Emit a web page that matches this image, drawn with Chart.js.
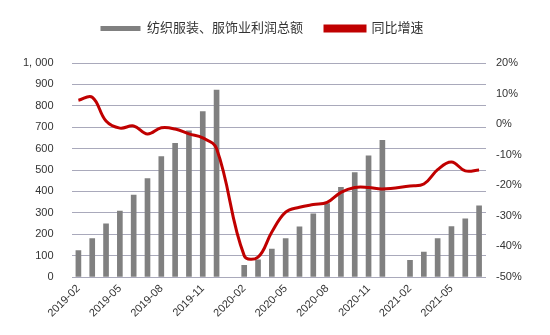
<!DOCTYPE html>
<html><head><meta charset="utf-8">
<script src="https://cdn.jsdelivr.net/npm/chart.js@4/dist/chart.umd.min.js"></script>
<style>html,body{margin:0;padding:0;background:#fff}#wrap{width:550px;height:335px}</style>
</head><body><div id="wrap"><canvas id="c" width="550" height="335"></canvas></div>
<script>
const categories = ["2019-02","2019-03","2019-04","2019-05","2019-06","2019-07","2019-08","2019-09","2019-10","2019-11","2019-12",
"2020-01","2020-02","2020-03","2020-04","2020-05","2020-06","2020-07","2020-08","2020-09","2020-10","2020-11","2020-12",
"2021-01","2021-02","2021-03","2021-04","2021-05","2021-06","2021-07"];
const profitTotal = [123,180,248,308,383,460,563,625,683,773,873,
null,55,80,130,180,235,295,343,419,488,566,639,
null,78,116,179,236,272,333];
const yoyGrowth = [7.8,8.8,1.0,-1.3,-0.6,-3.2,-1.2,-1.6,-3.2,-4.5,-8.0,
null,-43.0,-43.5,-35.3,-28.8,-27.2,-26.3,-25.6,-22.3,-20.7,-20.7,-21.2,
null,-20.2,-19.6,-14.9,-12.4,-15.3,-15.0];
const seriesNames = ["纺织服装、服饰业利润总额","同比增速"];

const FONT = "'Liberation Sans','Noto Sans CJK SC',sans-serif";
const GRID = '#A9A9BB';
const legendSpace = {
  id:'legendSpace',
  beforeInit(chart){
    const fit = chart.legend.fit;
    chart.legend.fit = function(){ fit.call(this); this.height += 18; };
  }
};
new Chart(document.getElementById('c'), {
  data: {
    labels: categories,
    datasets: [
      {type:'line', label: seriesNames[1], data: yoyGrowth, yAxisID:'y1', borderColor:'#C00000', backgroundColor:'#C00000',
       borderWidth:3, pointRadius:0, tension:0.4, spanGaps:true, order:0},
      {type:'bar', label: seriesNames[0], data: profitTotal, yAxisID:'y', backgroundColor:'#808080',
       barThickness:5, order:1}
    ]
  },
  plugins:[legendSpace],
  options: {
    responsive:false, animation:false, devicePixelRatio:1,
    layout:{padding:{top:0,left:0,right:26,bottom:0}},
    plugins:{
      legend:{display:true, position:'top', reverse:true,
        labels:{boxWidth:40, boxHeight:5, padding:22, color:'#333', font:{family:FONT,size:13}}},
      tooltip:{enabled:false}
    },
    scales:{
      x:{grid:{display:false, drawTicks:false}, border:{display:false},
        ticks:{autoSkip:false, maxRotation:45, minRotation:45, padding:5, color:'#333', font:{family:FONT,size:11},
          callback:function(v,i){return i%3===0?categories[i]:'';}},
        afterFit:function(a){a.height=58;}},
      y:{position:'left', min:0, max:1000,
        ticks:{stepSize:100, padding:18, color:'#333', font:{family:FONT,size:11},
          callback:function(v){return v===1000?'1, 000':String(v);}},
        grid:{color:GRID, lineWidth:1, drawTicks:false}, border:{display:false},
        afterFit:function(a){a.width=71.5;}},
      y1:{position:'right', min:-50, max:20,
        ticks:{stepSize:10, padding:10, color:'#333', font:{family:FONT,size:11},
          callback:function(v){return v+'%';}},
        grid:{display:false, drawTicks:false}, border:{display:false},
        afterFit:function(a){a.width=38;}}
    }
  }
});
</script></body></html>
